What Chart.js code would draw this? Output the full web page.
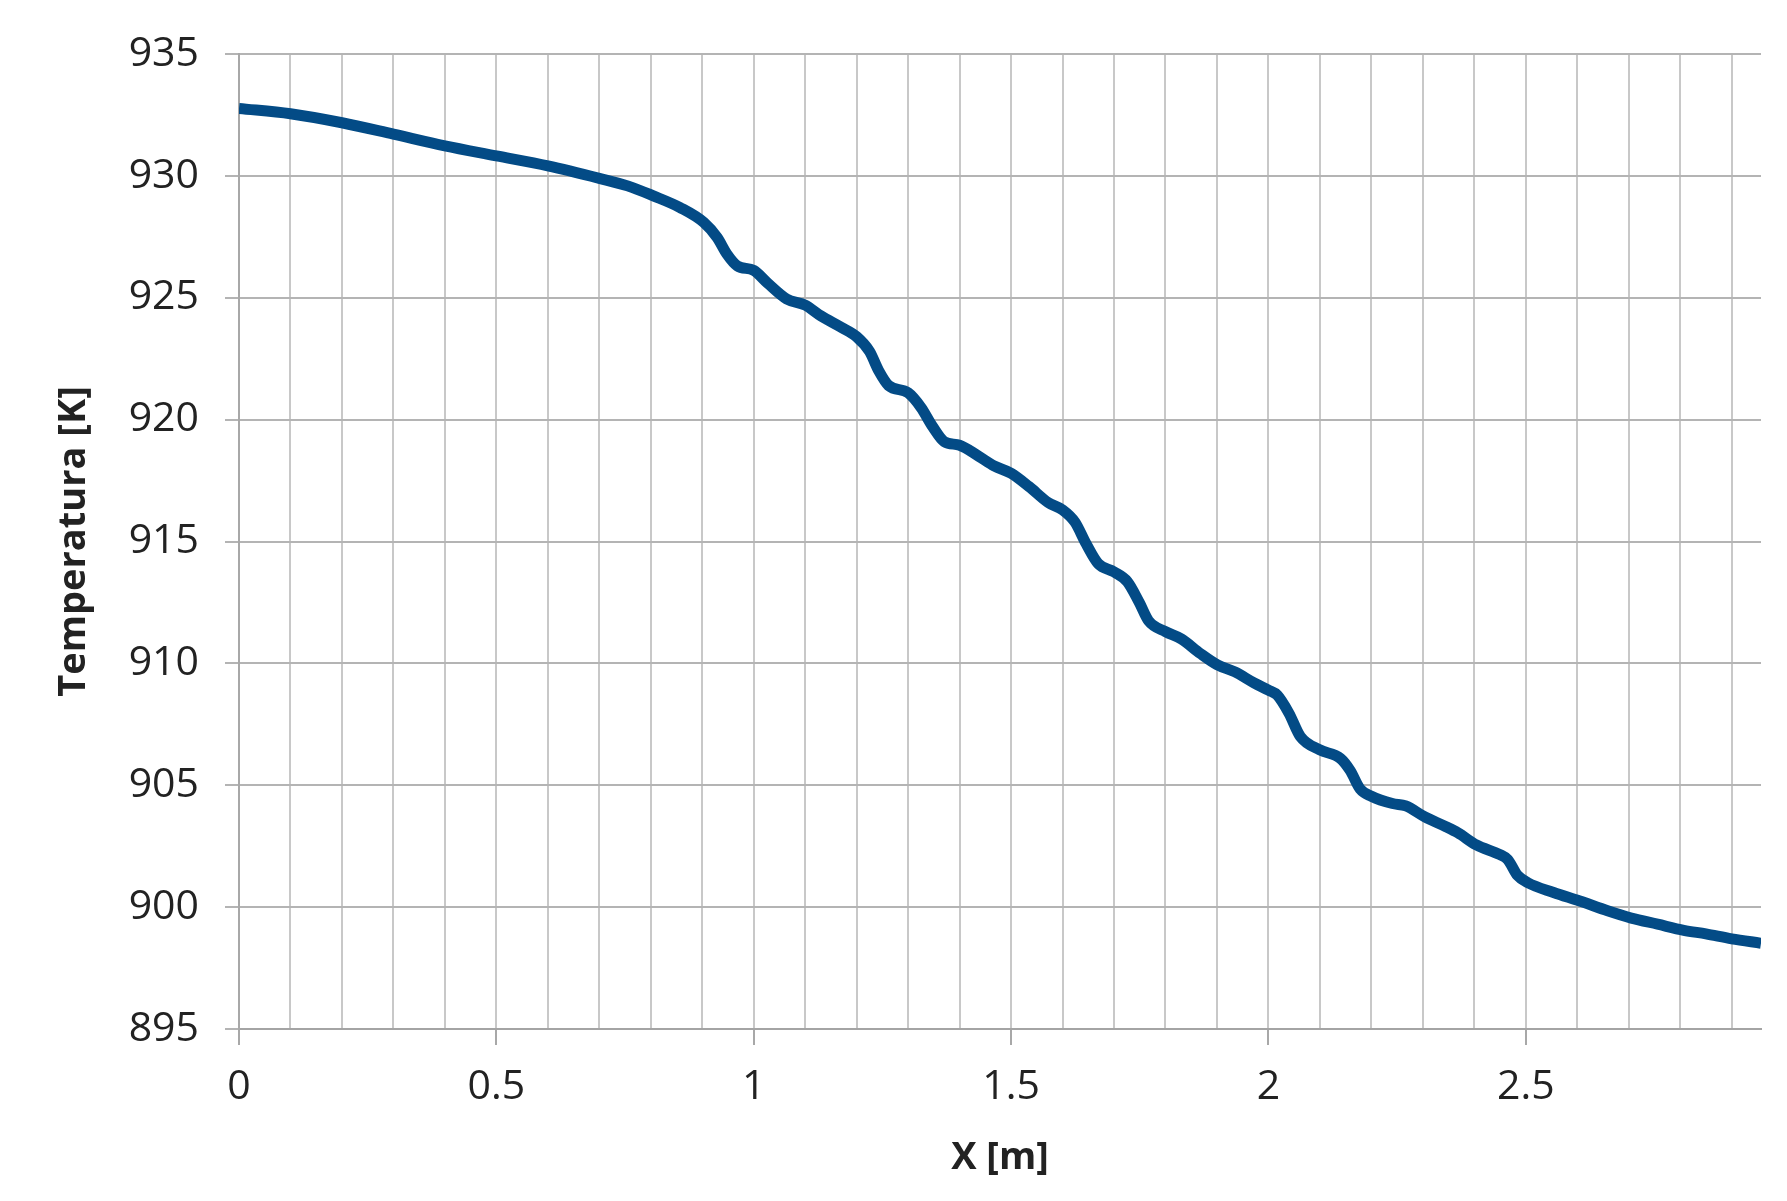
<!DOCTYPE html>
<html>
<head>
<meta charset="utf-8">
<script src="https://cdn.jsdelivr.net/npm/chart.js@4"></script>
<style>
  html, body { margin: 0; padding: 0; background: #fff; }
  #wrap { width: 1787px; height: 1201px; }
</style>
</head>
<body>
<div id="wrap"><canvas id="tempChart" width="1787" height="1201"></canvas></div>
<script>
// X position [m] and temperature [K]
const xValues = [
  0.00, 0.10, 0.20, 0.30, 0.40, 0.50, 0.60, 0.70, 0.755, 0.805,
  0.857, 0.903, 0.929, 0.948, 0.968, 1.00, 1.027, 1.064, 1.10, 1.131,
  1.169, 1.20, 1.225, 1.243, 1.262, 1.30, 1.325, 1.348, 1.37, 1.40,
  1.437, 1.467, 1.50, 1.535, 1.572, 1.60, 1.624, 1.646, 1.669, 1.70,
  1.726, 1.749, 1.767, 1.80, 1.831, 1.868, 1.90, 1.935, 1.972, 2.00,
  2.017, 2.04, 2.062, 2.10, 2.14, 2.159, 2.178, 2.20, 2.241, 2.267,
  2.304, 2.345, 2.368, 2.404, 2.45, 2.465, 2.484, 2.504, 2.554, 2.605,
  2.659, 2.705, 2.756, 2.807, 2.85, 2.90, 2.957
];
const temperature = [
  932.77, 932.55, 932.18, 931.71, 931.23, 930.82, 930.41, 929.90, 929.59, 929.18,
  928.70, 928.09, 927.47, 926.79, 926.31, 926.12, 925.60, 924.95, 924.70, 924.25,
  923.80, 923.40, 922.80, 922.00, 921.40, 921.10, 920.50, 919.70, 919.10, 918.95,
  918.50, 918.10, 917.80, 917.25, 916.60, 916.30, 915.80, 914.90, 914.10, 913.75,
  913.35, 912.50, 911.75, 911.30, 911.00, 910.40, 909.95, 909.65, 909.20, 908.90,
  908.70, 907.95, 907.00, 906.45, 906.10, 905.60, 904.85, 904.55, 904.25, 904.15,
  903.70, 903.30, 903.05, 902.55, 902.15, 901.95, 901.30, 901.00, 900.60, 900.25,
  899.85, 899.55, 899.30, 899.05, 898.90, 898.70, 898.52
];
const yTicks = [895, 900, 905, 910, 915, 920, 925, 930, 935];
const xLabelStep = 0.5;

const isMultiple = (v, step) => Math.abs(v / step - Math.round(v / step)) < 1e-6;

new Chart(document.getElementById("tempChart"), {
  type: "line",
  data: {
    datasets: [{
      label: "Temperatura",
      data: xValues.map((x, i) => ({ x: x, y: temperature[i] })),
      borderColor: "#034b86",
      borderWidth: 11,
      pointRadius: 0,
      cubicInterpolationMode: "monotone",
      fill: false
    }]
  },
  options: {
    responsive: false,
    animation: false,
    layout: { padding: { left: 48, top: 54, right: 26, bottom: 18 } },
    plugins: { legend: { display: false }, tooltip: { enabled: false } },
    scales: {
      x: {
        type: "linear",
        min: 0,
        max: 2.957,
        afterBuildTicks: scale => {
          scale.ticks = scale.ticks.filter(t => isMultiple(t.value, 0.1));
        },
        afterFit: scale => { scale.height = 154; },
        ticks: {
          stepSize: 0.1,
          includeBounds: false,
          autoSkip: false,
          maxRotation: 0,
          maxTicksLimit: 100,
          padding: 18,
          color: "#222",
          font: { family: "Open Sans", size: 41 },
          callback: v => isMultiple(v, xLabelStep) ? String(Math.round(v * 10) / 10) : ""
        },
        grid: {
          color: "#c8c8c8",
          lineWidth: 2,
          tickLength: 16,
          tickColor: ctx => (ctx.tick && isMultiple(ctx.tick.value, xLabelStep)) ? "#a8a8a8" : "rgba(0,0,0,0)"
        },
        border: { color: "#a4a4a4", width: 2 },
        title: {
          display: true,
          text: "X [m]",
          color: "#222",
          font: { family: "Open Sans", size: 38, weight: "bold" },
          padding: { top: 0, bottom: 2 }
        }
      },
      y: {
        min: 895,
        max: 935,
        afterBuildTicks: scale => {
          scale.ticks = yTicks.map(v => ({ value: v }));
        },
        afterFit: scale => { scale.width = 191; },
        ticks: {
          padding: 26,
          color: "#222",
          font: { family: "Open Sans", size: 41 }
        },
        grid: {
          color: "#b4b4b4",
          lineWidth: 2,
          tickLength: 14,
          tickColor: "#b4b4b4"
        },
        border: { color: "#a8a8a8", width: 2 },
        title: {
          display: true,
          text: "Temperatura [K]",
          color: "#222",
          font: { family: "Open Sans", size: 38, weight: "bold" },
          padding: { top: 3, bottom: 0 }
        }
      }
    }
  }
});
</script>
</body>
</html>
